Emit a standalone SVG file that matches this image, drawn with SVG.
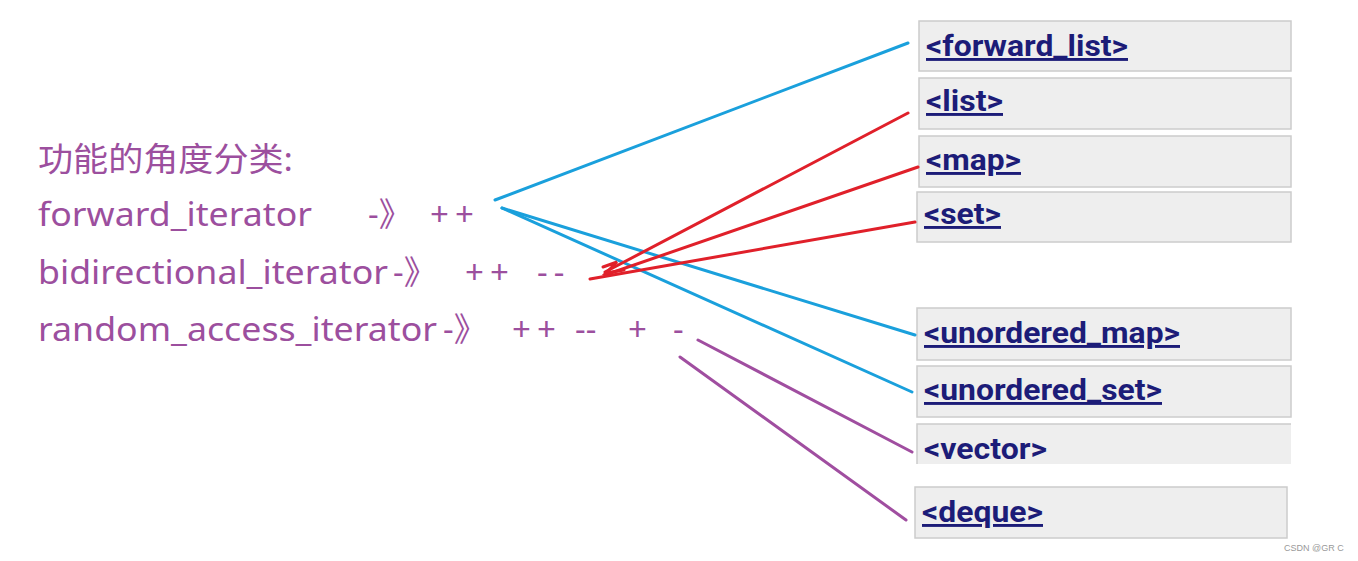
<svg xmlns="http://www.w3.org/2000/svg" width="1358" height="561" viewBox="0 0 1358 561">
<style>
.box{fill:#eeeeee;stroke:#cccccc;stroke-width:1.5}
.lbl{font-family:Roboto,"Liberation Sans",sans-serif;font-weight:bold;font-size:29px;fill:#1c1c78;text-decoration:underline}
.nou{text-decoration:none}
.t{font-family:"Noto Sans","Noto Sans CJK SC",sans-serif;font-size:33px;fill:#9c4f9e}
.sp{letter-spacing:6px}
.blue{stroke:#1aa0dc;stroke-width:3;fill:none;stroke-linecap:round}
.red{stroke:#e0202a;stroke-width:3;fill:none;stroke-linecap:round}
.pur{stroke:#a04ea0;stroke-width:3;fill:none;stroke-linecap:round}
</style>
<rect width="1358" height="561" fill="#ffffff"/>
<g id="text-left">
<text class="t" x="38" y="171" font-size="34" textLength="255" lengthAdjust="spacingAndGlyphs" font-family="'Noto Sans CJK SC',sans-serif">功能的角度分类:</text>
<text class="t" x="38" y="226" textLength="274" lengthAdjust="spacingAndGlyphs">forward_iterator</text>
<text class="t" x="368" y="226">-》</text>
<text class="t sp" x="430" y="226">++</text>
<text class="t" x="38" y="284" textLength="350" lengthAdjust="spacingAndGlyphs">bidirectional_iterator</text>
<text class="t" x="393" y="284">-》</text>
<text class="t sp" x="465" y="284">++</text>
<text class="t sp" x="537" y="284">--</text>
<text class="t" x="38" y="341" textLength="399" lengthAdjust="spacingAndGlyphs">random_access_iterator</text>
<text class="t" x="443" y="341">-》</text>
<text class="t sp" x="512" y="341">++</text>
<text class="t" x="575" y="341">--</text>
<text class="t" x="628" y="341">+</text>
<text class="t" x="673" y="341">-</text>
</g>
<g id="n-forward_list"><rect class="box" x="919" y="21" width="372" height="50"/><text class="lbl" x="926" y="56" textLength="202" lengthAdjust="spacingAndGlyphs">&lt;forward_list&gt;</text></g>
<g id="n-list"><rect class="box" x="919" y="78" width="372" height="51"/><text class="lbl" x="926" y="111" textLength="77" lengthAdjust="spacingAndGlyphs">&lt;list&gt;</text></g>
<g id="n-map"><rect class="box" x="919" y="136" width="372" height="51"/><text class="lbl" x="926" y="170" textLength="95" lengthAdjust="spacingAndGlyphs">&lt;map&gt;</text></g>
<g id="n-set"><rect class="box" x="917" y="192" width="374" height="50"/><text class="lbl" x="924" y="224" textLength="77" lengthAdjust="spacingAndGlyphs">&lt;set&gt;</text></g>
<g id="n-unordered_map"><rect class="box" x="917" y="308" width="374" height="52"/><text class="lbl" x="924" y="343" textLength="256" lengthAdjust="spacingAndGlyphs">&lt;unordered_map&gt;</text></g>
<g id="n-unordered_set"><rect class="box" x="917" y="366" width="374" height="51"/><text class="lbl" x="924" y="400" textLength="238" lengthAdjust="spacingAndGlyphs">&lt;unordered_set&gt;</text></g>
<g id="n-vector"><rect x="917" y="424" width="374" height="40" fill="#eeeeee"/><path d="M917,464 V424 H1291" fill="none" stroke="#cccccc" stroke-width="1.5"/><text class="lbl nou" x="924" y="459" textLength="123" lengthAdjust="spacingAndGlyphs">&lt;vector&gt;</text></g>
<g id="n-deque"><rect class="box" x="915" y="487" width="372" height="51"/><text class="lbl" x="922" y="522" textLength="121" lengthAdjust="spacingAndGlyphs">&lt;deque&gt;</text></g>
<g id="connectors">
<line class="blue" x1="495" y1="200" x2="908" y2="43"/>
<line class="blue" x1="502" y1="208" x2="915" y2="335"/>
<line class="blue" x1="502" y1="208" x2="912" y2="392"/>
<line class="red" x1="605" y1="272" x2="908" y2="113"/>
<line class="red" x1="605" y1="275" x2="918" y2="167"/>
<line class="red" x1="590" y1="279" x2="915" y2="222"/>
<path class="red" d="M603,267 L617,262 L606,273 L624,270"/>
<line class="pur" x1="698" y1="340" x2="912" y2="452"/>
<line class="pur" x1="680" y1="357" x2="906" y2="520"/>
</g>
<text x="1284" y="551" font-family="'Liberation Sans',sans-serif" font-size="9" fill="#999999">CSDN @GR C</text>
</svg>
